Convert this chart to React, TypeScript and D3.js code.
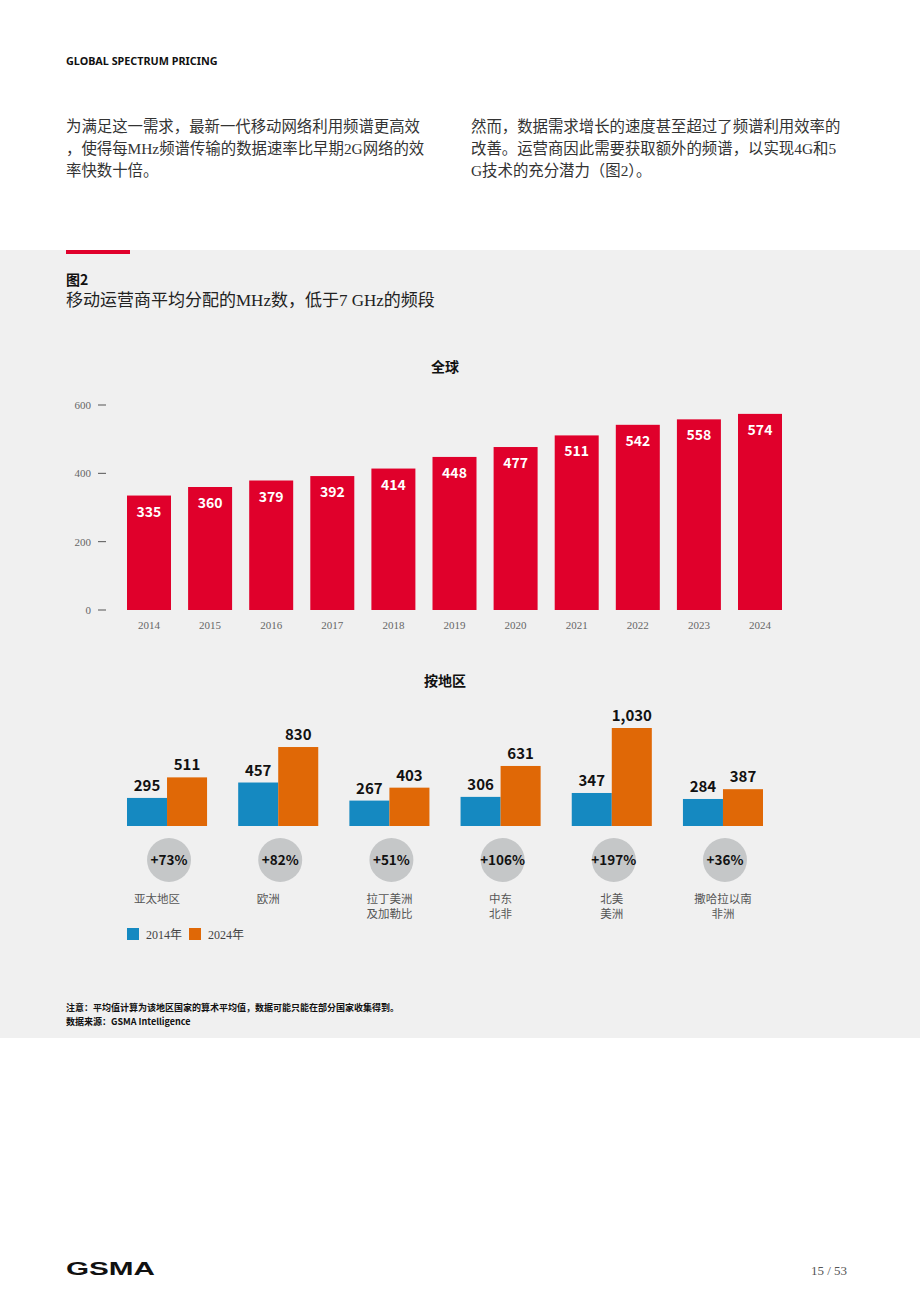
import React from 'react';
import * as d3 from 'd3';

// global averages, MHz below 7 GHz
const years = ['2014', '2015', '2016', '2017', '2018', '2019', '2020', '2021', '2022', '2023', '2024'];
const globalMHz = [335, 360, 379, 392, 414, 448, 477, 511, 542, 558, 574];
const yTicks = [0, 200, 400, 600];

// by region
const regions = [['亚太地区'], ['欧洲'], ['拉丁美洲', '及加勒比'], ['中东', '北非'], ['北美', '美洲'], ['撒哈拉以南', '非洲']];
const mhz2014 = [295, 457, 267, 306, 347, 284];
const mhz2024 = [511, 830, 403, 631, 1030, 387];
const growth = ['+73%', '+82%', '+51%', '+106%', '+197%', '+36%'];
const legendYears = ['2014年', '2024年'];

const RED = '#e0002b';
const BLUE = '#1589c1';
const ORANGE = '#e06806';
const BG = '#f0f0f0';
const SANS = "'Noto Sans', 'Noto Sans CJK SC', sans-serif";
const CJK = "'Noto Sans CJK SC', sans-serif";
const SERIF = "'Liberation Serif', 'Noto Sans CJK SC', serif";

const leftPara = ['为满足这一需求，最新一代移动网络利用频谱更高效', '，使得每MHz频谱传输的数据速率比早期2G网络的效', '率快数十倍。'];
const rightPara = ['然而，数据需求增长的速度甚至超过了频谱利用效率的', '改善。运营商因此需要获取额外的频谱，以实现4G和5', 'G技术的充分潜力（图2）。'];

const App = () => {
  // top chart scales
  const x = d3.scaleBand().domain(years).range([127, 782]).paddingInner(0.28);
  const y = d3.scaleLinear().domain([0, 600]).range([610, 405]);

  // bottom chart scales
  const gx = d3.scaleBand().domain(regions.map((r) => r.join(''))).range([127, 763]).paddingInner(0.28);
  const sub = d3.scaleBand().domain(['2014', '2024']).range([0, gx.bandwidth()]);
  const ry = d3.scaleLinear().domain([0, 1030]).range([826, 728]);
  const fmt = d3.format(',');

  return (
    <svg width={920} height={1302} style={{ position: 'absolute', left: 0, top: 0, display: 'block' }}>
      <rect width={920} height={1302} fill="#fff" />
      <text x={66} y={65} fontFamily={SANS} fontSize={10.8} fontWeight={700} fill="#111">GLOBAL SPECTRUM PRICING</text>

      {leftPara.map((l, i) => (
        <text key={'l' + i} x={66} y={132 + i * 22} fontFamily={SERIF} fontSize={15.4} fill="#333">{l}</text>
      ))}
      {rightPara.map((l, i) => (
        <text key={'r' + i} x={471} y={132 + i * 22} fontFamily={SERIF} fontSize={15.4} fill="#333">{l}</text>
      ))}

      <rect x={0} y={250} width={920} height={788} fill={BG} />
      <rect x={66} y={250} width={64} height={4} fill={RED} />
      <text x={66} y={285} fontFamily={CJK} fontSize={14} fontWeight={700} fill="#111">图2</text>
      <text x={66} y={306} fontFamily={SERIF} fontSize={17} fill="#222">移动运营商平均分配的MHz数，低于7 GHz的频段</text>

      {/* global */}
      <text x={445} y={372} textAnchor="middle" fontFamily={CJK} fontSize={14} fontWeight={700} fill="#111">全球</text>
      {yTicks.map((t) => (
        <g key={t}>
          <line x1={98} x2={106} y1={y(t)} y2={y(t)} stroke="#555" strokeWidth={1} />
          <text x={91} y={y(t) + 4} textAnchor="end" fontFamily={SERIF} fontSize={11} fill="#666">{t}</text>
        </g>
      ))}
      {years.map((yr, i) => (
        <g key={yr}>
          <rect x={x(yr)} y={y(globalMHz[i])} width={x.bandwidth()} height={y(0) - y(globalMHz[i])} fill={RED} />
          <text x={x(yr)! + x.bandwidth() / 2} y={y(globalMHz[i]) + 21} textAnchor="middle" fontFamily={CJK} fontSize={14} fontWeight={700} fill="#fff">{globalMHz[i]}</text>
          <text x={x(yr)! + x.bandwidth() / 2} y={629} textAnchor="middle" fontFamily={SERIF} fontSize={11} fill="#666">{yr}</text>
        </g>
      ))}

      {/* by region */}
      <text x={445} y={686} textAnchor="middle" fontFamily={CJK} fontSize={14} fontWeight={700} fill="#111">按地区</text>
      {regions.map((r, i) => {
        const key = r.join('');
        const gx0 = gx(key)!;
        const cx = gx0 + gx.bandwidth() / 2;
        const bars = [
          { k: '2014', v: mhz2014[i], c: BLUE },
          { k: '2024', v: mhz2024[i], c: ORANGE },
        ];
        return (
          <g key={key}>
            {bars.map((b) => (
              <g key={b.k}>
                <rect x={gx0 + sub(b.k)!} y={ry(b.v)} width={sub.bandwidth()} height={ry(0) - ry(b.v)} fill={b.c} />
                <text x={gx0 + sub(b.k)! + sub.bandwidth() / 2} y={ry(b.v) - 7} textAnchor="middle" fontFamily={CJK} fontSize={15} fontWeight={700} fill="#111">{fmt(b.v)}</text>
              </g>
            ))}
            <circle cx={cx + 2} cy={860} r={22} fill="#c5c7c8" />
            <text x={cx + 2} y={865} textAnchor="middle" fontFamily={CJK} fontSize={13.5} fontWeight={700} fill="#111">{growth[i]}</text>
            {r.map((line, j) => (
              <text key={j} x={cx - (i < 2 ? 10 : 0)} y={903 + j * 15} textAnchor="middle" fontFamily={CJK} fontSize={11.5} fill="#555">{line}</text>
            ))}
          </g>
        );
      })}
      {legendYears.map((l, i) => (
        <g key={l}>
          <rect x={127 + i * 62} y={928} width={12} height={12} fill={i === 0 ? BLUE : ORANGE} />
          <text x={146 + i * 62} y={939} fontFamily={SERIF} fontSize={12} fill="#444">{l}</text>
        </g>
      ))}

      <text x={66} y={1011} fontFamily={CJK} fontSize={9} fontWeight={700} fill="#111">注意：平均值计算为该地区国家的算术平均值，数据可能只能在部分国家收集得到。</text>
      <text x={66} y={1025} fontFamily={CJK} fontSize={9} fontWeight={700} fill="#111">数据来源：GSMA Intelligence</text>

      <text x={66} y={1275} fontFamily={"'Liberation Sans', Arial, sans-serif"} fontSize={19} fontWeight={700} fill="#111" textLength={89} lengthAdjust="spacingAndGlyphs">GSMA</text>
      <text x={847} y={1275} textAnchor="end" fontFamily={SERIF} fontSize={13} fill="#555">15 / 53</text>
    </svg>
  );
};

export default App;
